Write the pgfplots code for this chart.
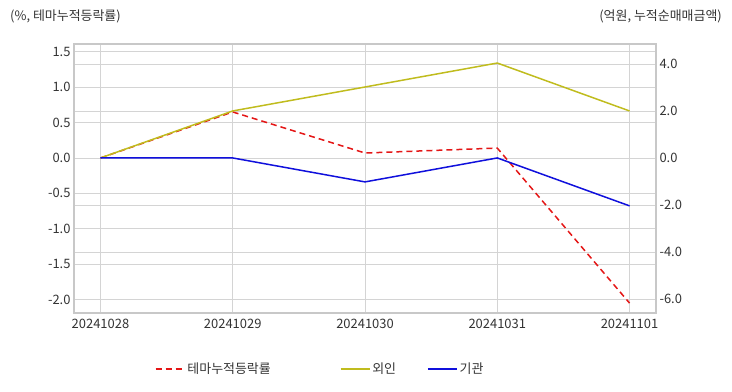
\documentclass[border=0pt]{standalone}
\usepackage{pgfplots}
\pgfplotsset{compat=1.18}
\usepackage{fontspec}
\setmainfont{Noto Sans CJK KR}
\definecolor{cred}{RGB}{228,22,22}
\definecolor{cyel}{RGB}{192,188,30}
\definecolor{cblue}{RGB}{16,16,220}
\definecolor{gridgray}{RGB}{212,212,212}
\definecolor{framegray}{RGB}{200,200,200}
\definecolor{txtgray}{RGB}{51,51,51}
\pgfplotsset{
  common/.style={
    scale only axis, width=582bp, height=269bp,
    at={(74bp,79bp)}, anchor=south west,
    xmin=-0.2, xmax=4.2,
    xtick={0,1,2,3,4},
    major tick length=0pt,
    axis line style={framegray, line width=1.2bp},
    grid style={gridgray, line width=0.8bp},
    tick label style={font=\fontsize{13}{15}\selectfont, text=txtgray},
    xticklabel style={yshift=-3bp},
    /pgf/number format/assume math mode=true,
    yticklabel style={/pgf/number format/.cd, fixed, fixed zerofill, precision=1},
    legend image code/.code={\draw[##1] (0bp,0bp) -- (29bp,0bp);},
  },
  rightax/.style={common,
    ymin=-6.6, ymax=4.85,
    ytick={-6,-4,-2,0,2,4},
    ytick pos=right, yticklabel pos=right,
    xticklabels={},
  }
}
\begin{document}
\begin{tikzpicture}
\draw[draw=none, fill=none] (0,0) rectangle (732bp,392bp);
\node[anchor=base west, inner sep=0, text=txtgray, font=\fontsize{13}{15}\selectfont] at (10bp,371bp) {(\%, 테마누적등락률)};
\node[anchor=base east, inner sep=0, text=txtgray, font=\fontsize{13}{15}\selectfont] at (722bp,371bp) {(억원, 누적순매매금액)};
% right axis: grid and ticks
\begin{axis}[rightax, ymajorgrids]
\addplot[draw=none] coordinates {(0,0)};
\end{axis}
% left axis
\begin{axis}[common,
  ymin=-2.19, ymax=1.61,
  ytick={-2,-1.5,-1,-0.5,0,0.5,1,1.5},
  ytick pos=left, yticklabel pos=left,
  xmajorgrids, ymajorgrids,
  xticklabels={20241028,20241029,20241030,20241031,20241101},
]
\addplot[cred, line width=1.5bp, dash pattern=on 6bp off 4bp] coordinates {(0,0) (1,0.65) (2,0.07) (3,0.14) (4,-2.05)};
\end{axis}
% right axis: lines and legend
\begin{axis}[rightax, hide axis,
  legend style={draw=none, fill=none, legend columns=3, at={(rel axis cs:0.423,-0.208)}, anchor=center, font=\fontsize{13}{15}\selectfont, text=txtgray,
    /tikz/every even column/.append style={column sep=29bp}},
]
\addlegendimage{cred, line width=1.5bp, dash pattern=on 6bp off 4bp}
\addlegendentry{테마누적등락률\rule{38bp}{0pt}}
\addplot[cyel, line width=1.5bp] coordinates {(0,0) (1,2.0) (2,3.02) (3,4.04) (4,2.0)};
\addlegendentry{외인}
\addplot[cblue, line width=1.5bp] coordinates {(0,0) (1,0) (2,-1.02) (3,0) (4,-2.04)};
\addlegendentry{기관}
\end{axis}
\end{tikzpicture}
\end{document}
